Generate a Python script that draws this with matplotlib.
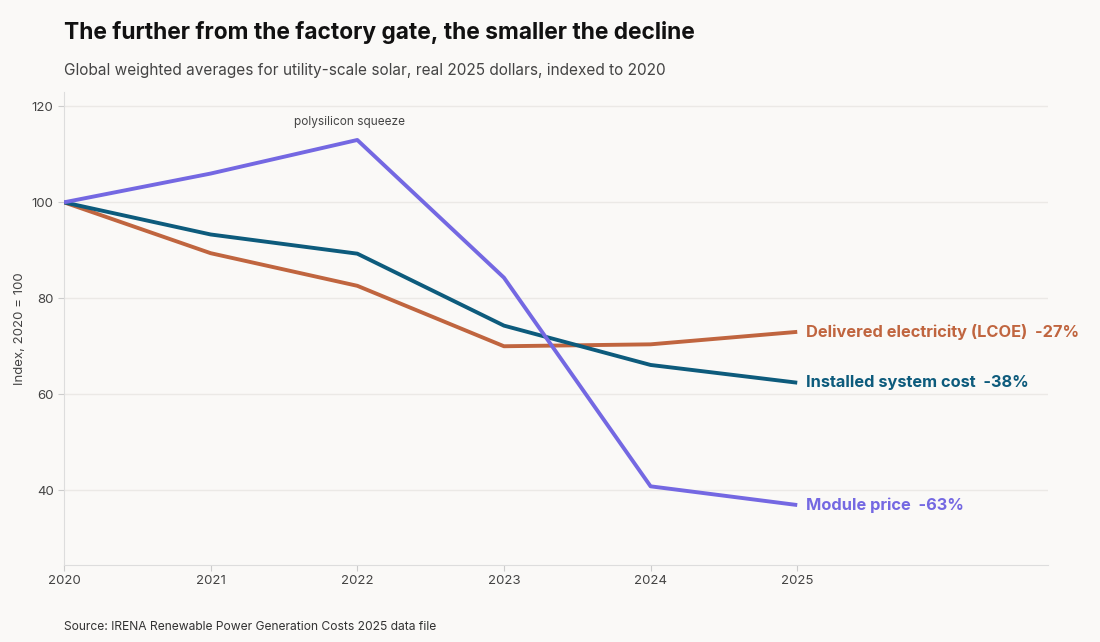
import matplotlib
matplotlib.use("Agg")
import matplotlib.pyplot as plt

plt.rcParams['font.family'] = ['Inter', 'DejaVu Sans']

years = [2020, 2021, 2022, 2023, 2024, 2025]
module = [100, 106.0, 113.0, 84.3, 40.8, 36.9]
installed = [100, 93.3, 89.3, 74.3, 66.1, 62.4]
lcoe = [100, 89.4, 82.6, 70.0, 70.4, 73.0]

series = [
    (lcoe, '#c0653f', 'Delivered electricity (LCOE)  -27%'),
    (installed, '#0d5b7c', 'Installed system cost  -38%'),
    (module, '#7468e2', 'Module price  -63%'),
]

bg = '#faf9f7'
fig = plt.figure(figsize=(11, 6.42), dpi=100, facecolor=bg)
ax = fig.add_axes([64 / 1100, 1 - 565 / 642, (1048 - 64) / 1100, (565 - 92) / 642])
ax.set_facecolor(bg)

for vals, col, lab in series:
    ax.plot(years, vals, color=col, lw=2.8, solid_capstyle='butt', zorder=3)
    ax.text(2025.06, vals[-1], lab, color=col, fontsize=11.8, fontweight='bold', va='center')

ax.text(2021.95, 115.5, 'polysilicon squeeze', fontsize=8.5, color='#444444', ha='center', va='bottom')

ax.set_xlim(2020, 2026.71)
ax.set_ylim(24.4, 123)
ax.set_xticks(years)
ax.set_yticks([40, 60, 80, 100, 120])
ax.grid(axis='y', color='#ebe9e6', lw=1)
ax.tick_params(colors='#cccccc', labelcolor='#444444', labelsize=9.5, length=4)
for s in ['top', 'right']:
    ax.spines[s].set_visible(False)
for s in ['left', 'bottom']:
    ax.spines[s].set_color('#dddddd')
ax.set_ylabel('Index, 2020 = 100', fontsize=9.5, color='#444444')

fig.text(64 / 1100, 1 - 33 / 642, 'The further from the factory gate, the smaller the decline',
         fontsize=16.4, fontweight='bold', color='#111111', va='center')
fig.text(64 / 1100, 1 - 70 / 642, 'Global weighted averages for utility-scale solar, real 2025 dollars, indexed to 2020',
         fontsize=11.1, color='#444444', va='center')
fig.text(64 / 1100, 1 - 627 / 642, 'Source: IRENA Renewable Power Generation Costs 2025 data file',
         fontsize=8.7, color='#333333', va='center')

fig.savefig('out.png', dpi=100, facecolor=bg)
